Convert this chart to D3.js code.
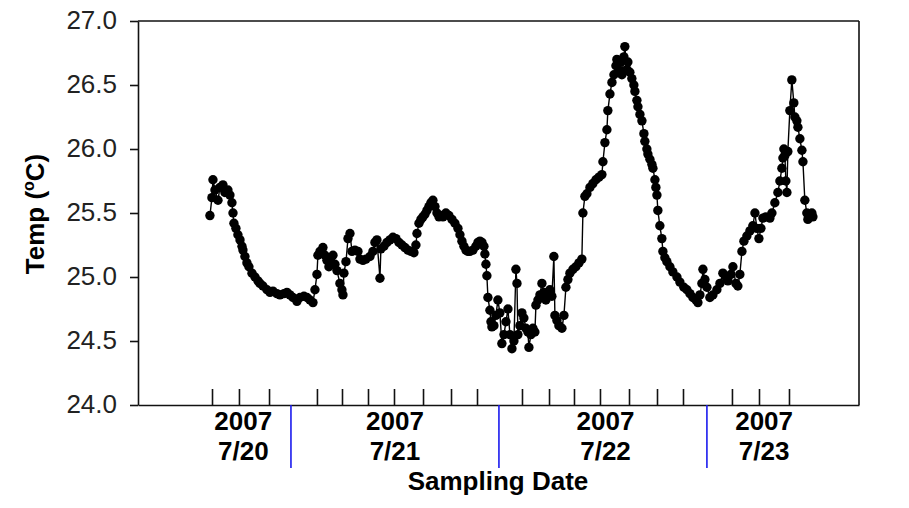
<!DOCTYPE html>
<html>
<head>
<meta charset="utf-8">
<script src="https://cdn.jsdelivr.net/npm/d3@7"></script>
<style>
  html, body { margin: 0; padding: 0; background: #ffffff; }
  svg { display: block; }
</style>
</head>
<body>
<svg id="chart" width="909" height="508"></svg>
<script>
// Hours since 2007-07-20 00:00
const hours = [
14.65,14.88,15.0,15.23,15.58,15.81,16.15,16.38,16.73,16.96,17.19,17.31,17.42,17.65,17.88,18.12,18.35,18.46,18.69,18.92,
19.15,19.5,19.85,20.19,20.42,20.77,21.23,21.58,21.92,22.38,22.73,23.19,23.54,23.88,24.23,24.69,25.04,25.5,25.85,26.19,
26.54,26.77,27.0,27.11,27.35,27.69,27.92,28.15,28.38,28.62,28.85,29.08,29.31,29.65,29.88,30.0,30.11,30.35,30.58,30.81,
31.04,31.38,31.73,31.96,32.31,32.65,33.12,33.46,33.69,33.92,34.27,34.38,34.73,35.08,35.42,35.77,36.12,36.46,36.81,37.15,
37.5,37.85,38.19,38.42,38.54,38.77,39.0,39.23,39.46,39.69,39.92,40.15,40.38,40.62,40.85,41.08,41.31,41.54,41.88,42.23,
42.58,42.92,43.27,43.5,43.73,43.96,44.19,44.42,44.65,45.0,45.34,45.58,45.81,46.04,46.27,46.38,46.5,46.61,46.73,46.96,
47.08,47.19,47.42,47.65,47.88,48.11,48.34,48.58,48.81,49.04,49.27,49.5,49.73,49.96,50.08,50.19,50.42,50.65,50.88,51.11,
51.34,51.46,51.69,51.92,52.15,52.27,52.5,52.73,52.96,53.19,53.42,53.65,53.88,54.11,54.34,54.46,54.69,54.92,55.27,55.5,
55.73,55.96,56.19,56.54,56.88,57.23,57.57,57.69,57.92,58.15,58.5,58.84,59.19,59.54,59.88,60.0,60.23,60.46,60.57,60.81,
61.04,61.27,61.5,61.61,61.84,62.07,62.19,62.42,62.53,62.77,62.88,63.11,63.34,63.57,63.69,63.92,64.04,64.27,64.5,64.73,
64.84,65.07,65.19,65.42,65.65,65.77,66.0,66.11,66.23,66.34,66.57,66.8,66.92,67.15,67.38,67.73,68.07,68.54,68.88,69.34,
69.69,70.04,70.38,70.73,70.96,71.19,71.42,71.54,71.77,72.0,72.34,72.69,73.15,73.5,73.84,74.19,74.42,74.77,75.0,75.34,
75.57,75.8,76.04,76.27,76.61,76.96,77.3,77.54,77.77,78.0,78.23,78.46,78.8,79.27,79.5,79.84,80.19,80.42,80.65,80.77,
80.88,81.0,81.11,81.23,81.34,81.57,81.8,82.03,82.15,82.38,82.5,82.73,82.96,83.08,83.3,83.53,83.65,83.88,84.11,84.23
];
const temps = [
25.48,25.62,25.76,25.68,25.6,25.7,25.72,25.66,25.68,25.64,25.58,25.5,25.42,25.38,25.33,25.29,25.24,25.21,25.16,25.11,
25.08,25.03,25.0,24.97,24.95,24.93,24.9,24.88,24.89,24.87,24.86,24.87,24.88,24.86,24.84,24.81,24.84,24.85,24.84,24.82,
24.80,24.9,25.02,25.17,25.2,25.23,25.17,25.13,25.08,25.12,25.17,25.1,25.05,24.95,24.9,24.86,25.03,25.12,25.3,25.34,
25.2,25.21,25.2,25.14,25.13,25.14,25.16,25.2,25.27,25.29,24.99,25.22,25.24,25.27,25.29,25.31,25.3,25.27,25.25,25.23,
25.21,25.2,25.19,25.25,25.34,25.42,25.45,25.47,25.49,25.52,25.55,25.58,25.6,25.55,25.5,25.47,25.48,25.47,25.5,25.48,
25.45,25.42,25.38,25.33,25.28,25.24,25.21,25.2,25.2,25.21,25.24,25.27,25.28,25.27,25.24,25.18,25.1,25.01,24.84,24.74,
24.65,24.61,24.62,24.7,24.82,24.72,24.48,24.55,24.65,24.75,24.55,24.44,24.5,25.06,24.95,24.55,24.62,24.72,24.68,24.6,
24.57,24.45,24.55,24.6,24.57,24.78,24.82,24.86,24.95,24.88,24.82,24.86,24.9,24.85,25.16,24.7,24.66,24.62,24.6,24.7,
24.92,24.98,25.03,25.06,25.08,25.11,25.14,25.5,25.63,25.65,25.7,25.73,25.76,25.78,25.8,25.9,26.05,26.15,26.3,26.43,
26.52,26.58,26.65,26.7,26.6,26.68,26.58,26.72,26.8,26.62,26.68,26.6,26.55,26.5,26.45,26.38,26.33,26.27,26.22,26.12,
26.06,26.0,25.96,25.92,25.88,25.85,25.76,25.7,25.64,25.52,25.4,25.3,25.2,25.15,25.12,25.08,25.04,25.0,24.96,24.92,
24.9,24.87,24.84,24.82,24.8,24.86,24.95,25.06,24.98,24.92,24.84,24.86,24.9,24.95,25.03,25.0,24.97,25.02,25.08,24.95,
24.93,25.02,25.2,25.28,25.32,25.36,25.4,25.5,25.38,25.3,25.38,25.46,25.47,25.46,25.5,25.58,25.66,25.75,25.85,25.93,
26.0,25.95,25.75,25.66,25.98,26.3,26.54,26.36,26.25,26.22,26.17,26.08,25.99,25.9,25.6,25.5,25.45,25.48,25.5,25.47
];
const yTicks = [24.0, 24.5, 25.0, 25.5, 26.0, 26.5, 27.0];
const xTickHours = [14.89,18.0,21.47,27.0,29.89,32.89,35.89,39.24,42.47,45.47,50.66,53.78,56.66,59.66,63.01,66.24,69.24,74.89,78.01,81.47];
const dayBreaks = [24, 48, 72];
const dayLabelHours = [18.5, 36.0, 60.3, 78.6];
const dayLabels = ["7/20", "7/21", "7/22", "7/23"];
const yearLabel = "2007";
const yTitle = "Temp (";
const yTitleSup = "o";
const yTitleEnd = "C)";
const xTitle = "Sampling Date";

const data = hours.map((h, i) => ({ h, t: temps[i] }));

const svg = d3.select("#chart");
const mLeft = 138, mRight = 859, mTop = 21, mBottom = 405;
const x = d3.scaleLinear().domain([6.35, 89.55]).range([mLeft, mRight]);
const y = d3.scaleLinear().domain([24, 27]).range([mBottom, mTop]);
const font = "'Liberation Sans', Arial, sans-serif";

svg.append("rect").attr("width", 909).attr("height", 508).attr("fill", "#ffffff");

// frame top & right
svg.append("line").attr("x1", mLeft).attr("x2", mRight).attr("y1", mTop).attr("y2", mTop)
  .attr("stroke", "#111").attr("stroke-width", 1.6);
svg.append("line").attr("x1", mRight).attr("x2", mRight).attr("y1", mTop).attr("y2", mBottom)
  .attr("stroke", "#111").attr("stroke-width", 1.6);

// y axis
const yAxis = svg.append("g").attr("transform", `translate(${mLeft},0)`)
  .call(d3.axisLeft(y).tickValues(yTicks).tickFormat(d3.format(".1f")).tickSize(8).tickSizeOuter(0).tickPadding(13));
yAxis.selectAll("path,line").attr("stroke", "#111").attr("stroke-width", 1.6);
yAxis.selectAll("text").attr("font-family", font).attr("font-size", 26).attr("fill", "#222").attr("dy", "0.3em");

// x axis
const xAxis = svg.append("g").attr("transform", `translate(0,${mBottom})`)
  .call(d3.axisBottom(x).tickValues(xTickHours).tickFormat("").tickSize(-16).tickSizeOuter(0));
xAxis.selectAll("path,line").attr("stroke", "#111").attr("stroke-width", 1.6);

// day separators
svg.selectAll(".sep").data(dayBreaks).enter().append("line")
  .attr("x1", d => x(d)).attr("x2", d => x(d)).attr("y1", mBottom).attr("y2", 468)
  .attr("stroke", "#1a1aee").attr("stroke-width", 1.6);

// day labels
const lbl = svg.selectAll(".dl").data(dayLabelHours).enter().append("g");
lbl.append("text").attr("x", d => x(d)).attr("y", 430).attr("text-anchor", "middle")
  .attr("font-family", font).attr("font-weight", "bold").attr("font-size", 26).attr("fill", "#000")
  .text(yearLabel);
lbl.append("text").attr("x", d => x(d)).attr("y", 460).attr("text-anchor", "middle")
  .attr("font-family", font).attr("font-weight", "bold").attr("font-size", 26).attr("fill", "#000")
  .text((d, i) => dayLabels[i]);

// axis titles
svg.append("text").attr("x", 498).attr("y", 490).attr("text-anchor", "middle")
  .attr("font-family", font).attr("font-weight", "bold").attr("font-size", 26).text(xTitle);
const yt = svg.append("text").attr("transform", "translate(44,214) rotate(-90)").attr("text-anchor", "middle")
  .attr("font-family", font).attr("font-weight", "bold").attr("font-size", 26);
yt.append("tspan").text(yTitle);
yt.append("tspan").attr("font-size", 16).attr("dy", -10).text(yTitleSup);
yt.append("tspan").attr("dy", 10).text(yTitleEnd);

// line + markers
const line = d3.line().x(d => x(d.h)).y(d => y(d.t));
svg.append("path").datum(data).attr("d", line).attr("fill", "none").attr("stroke", "#000").attr("stroke-width", 1.4);
svg.selectAll(".pt").data(data).enter().append("circle")
  .attr("cx", d => x(d.h)).attr("cy", d => y(d.t)).attr("r", 4.7).attr("fill", "#000");
</script>
</body>
</html>
